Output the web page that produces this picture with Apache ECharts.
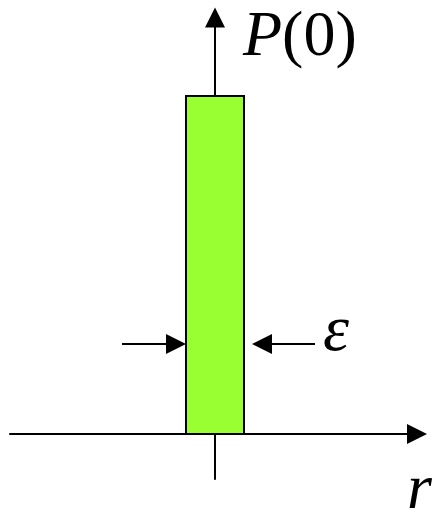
<!DOCTYPE html>
<html>
<head>
<meta charset="utf-8">
<script src="https://cdn.jsdelivr.net/npm/echarts@6/dist/echarts.min.js"></script>
<style>
  html, body { margin: 0; padding: 0; background: #fff; }
  #chart { width: 434px; height: 514px; }
</style>
</head>
<body>
<div id="chart"></div>
<script>
// Square pulse of width ε centred on r = 0, height P(0) (normalised to 1).
const pulseEdges = [-0.5, 0.5];   // r = -ε/2 .. +ε/2
const pulseHeight = [1];          // P(0)

// Width markers aimed at the pulse edges: [r, level] from tail to arrowhead centre
const leftMarker = [[-1.603, 0.266], [-0.672, 0.266]];
const rightMarker = [[1.724, 0.266], [0.81, 0.266]];

// Axis extents in r and P units
const rRange = [-3.5345, 3.4828];
const pRange = [-0.1331, 1.2322];

const serif = '"Liberation Serif", "DejaVu Serif", serif';
const chart = echarts.init(document.getElementById('chart'), null, { renderer: 'canvas' });

const axisCommon = {
  type: 'value',
  axisLine: {
    show: true,
    onZero: true,
    symbol: ['none', 'triangle'],
    symbolSize: [20, 20],
    lineStyle: { color: '#000', width: 2 }
  },
  axisTick: { show: false },
  axisLabel: { show: false },
  splitLine: { show: false }
};

chart.setOption({
  animation: false,
  backgroundColor: '#fff',
  grid: { left: 10, right: 17, top: 17.5, bottom: 35 },
  xAxis: Object.assign({}, axisCommon, { min: rRange[0], max: rRange[1] }),
  yAxis: Object.assign({}, axisCommon, { min: pRange[0], max: pRange[1] }),
  series: [
    {
      type: 'custom',
      z: 3,
      data: [[pulseEdges[0], pulseEdges[1], pulseHeight[0]]],
      renderItem: function (params, api) {
        const topLeft = api.coord([api.value(0), api.value(2)]);
        const bottomRight = api.coord([api.value(1), 0]);
        return {
          type: 'rect',
          shape: {
            x: topLeft[0],
            y: topLeft[1],
            width: bottomRight[0] - topLeft[0],
            height: bottomRight[1] - topLeft[1]
          },
          style: { fill: '#99ff33', stroke: '#000', lineWidth: 2 }
        };
      }
    },
    {
      type: 'lines',
      coordinateSystem: 'cartesian2d',
      z: 4,
      symbol: ['none', 'triangle'],
      symbolSize: [19, 20],
      lineStyle: { color: '#000', width: 2, opacity: 1, curveness: 0 },
      data: [{ coords: leftMarker }, { coords: rightMarker }]
    }
  ],
  graphic: [
    {
      type: 'text',
      x: 243, y: 38,
      style: {
        text: '{i|P}(0)',
        fill: '#000',
        verticalAlign: 'middle',
        align: 'left',
        font: '64px ' + serif,
        rich: {
          i: { fontStyle: 'italic', fontFamily: serif, fontSize: 64, lineHeight: 64 }
        },
        lineHeight: 64
      }
    },
    {
      type: 'text',
      x: 323, y: 333,
      style: {
        text: 'ε',
        fill: '#000',
        align: 'left',
        verticalAlign: 'middle',
        font: 'italic 66px ' + serif
      }
    },
    {
      type: 'text',
      x: 407, y: 491,
      style: {
        text: 'r',
        fill: '#000',
        align: 'left',
        verticalAlign: 'middle',
        font: 'italic 64px ' + serif
      }
    }
  ]
});
</script>
</body>
</html>
